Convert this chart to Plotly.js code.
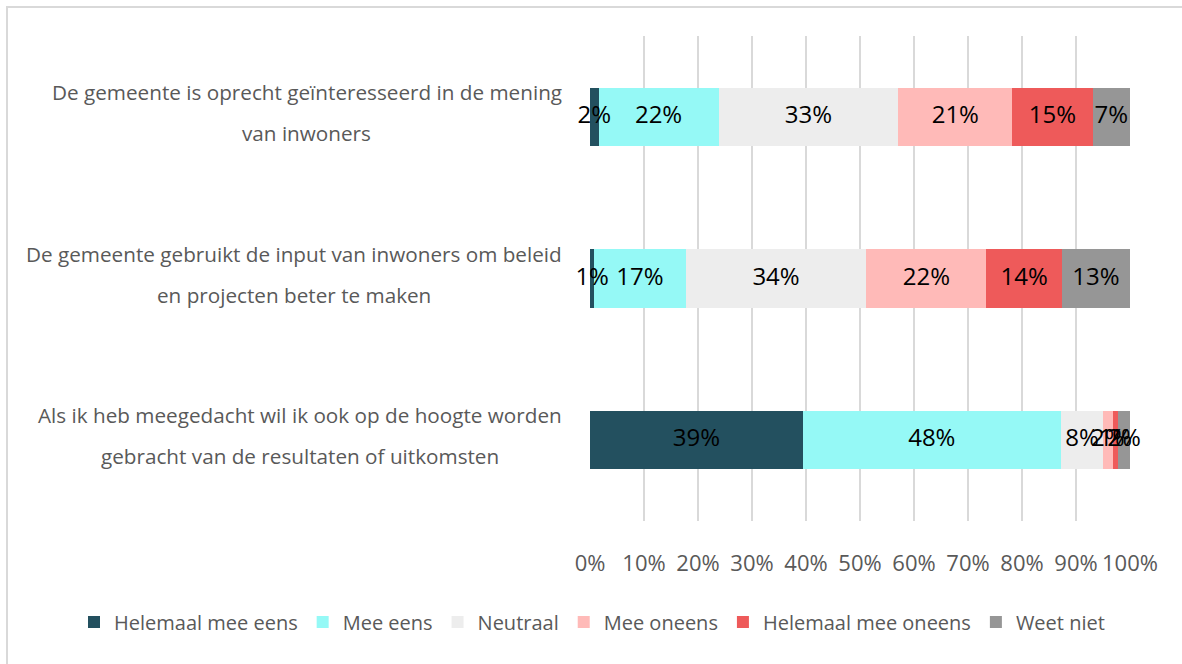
<!DOCTYPE html>
<html>
<head>
<meta charset="utf-8">
<script src="https://cdn.plot.ly/plotly-3.0.1.min.js"></script>
<style>
html,body{margin:0;padding:0;background:#fff;}
#wrap{position:relative;width:1182px;height:664px;overflow:hidden;}
#chart{width:1182px;height:664px;}
#frame{position:absolute;left:6px;top:6px;width:1300px;height:800px;border-left:2px solid #d9d9d9;border-top:2px solid #d9d9d9;pointer-events:none;}
</style>
</head>
<body>
<div id="wrap"><div id="chart"></div><div id="frame"></div></div>
<script>
const categories = [
  "De gemeente is oprecht geïnteresseerd in de mening<br>van inwoners",
  "De gemeente gebruikt de input van inwoners om beleid<br>en projecten beter te maken",
  "Als ik heb meegedacht wil ik ook op de hoogte worden<br>gebracht van de resultaten of uitkomsten"
];
const seriesNames = ["Helemaal mee eens","Mee eens","Neutraal","Mee oneens","Helemaal mee oneens","Weet niet"];
const helemaalMeeEens   = [1.6, 0.8, 39.4];
const meeEens           = [22.2, 16.9, 47.8];
const neutraal          = [33.3, 33.5, 7.8];
const meeOneens         = [21.1, 22.2, 1.8];
const helemaalMeeOneens = [14.9, 14.0, 1.0];
const weetNiet          = [6.9, 12.6, 2.2];
const xTicks = [0,10,20,30,40,50,60,70,80,90,100];

const seriesValues = [helemaalMeeEens, meeEens, neutraal, meeOneens, helemaalMeeOneens, weetNiet];
const colors = ["#23505F","#95F9F6","#EDEDED","#FFBAB8","#EE5A5A","#969696"];
const FONT = '"Open Sans", sans-serif';

const traces = seriesNames.map((name,i)=>({
  type:'bar', orientation:'h', name:name,
  y: categories, x: seriesValues[i],
  marker:{color:colors[i], line:{width:0}},
  textposition:'none', hoverinfo:'none'
}));

// value labels at the middle of each segment
const cum = categories.map(()=>0);
seriesValues.forEach((vals,i)=>{
  const mids = vals.map((v,k)=>{ const m = cum[k] + v/2; cum[k] += v; return m; });
  traces.push({
    type:'scatter', mode:'text', x:mids, y:categories,
    text: vals.map(v=>Math.round(v)+'%'),
    textposition:'middle center', cliponaxis:false, showlegend:false, hoverinfo:'none',
    textfont:{family:FONT,size:24,color:'#000'}
  });
});

const L=590, R=52, T=36, B=143, PW=1182-L-R;
const canvas=document.createElement('canvas');
const ctx=canvas.getContext('2d');
ctx.font='20.7px "Open Sans"';
const annotations=[];
categories.forEach((c,i)=>{
  const lines=c.split('<br>');
  const w=Math.max(...lines.map(s=>ctx.measureText(s).width));
  const cx=562 - w/2;
  const px=(cx-L)/PW;
  lines.forEach((s,j)=>{
    annotations.push({xref:'paper',yref:'y',x:px,y:c,xanchor:'center',yanchor:'middle',
      yshift: j===0?25:-16, text:s, showarrow:false,
      font:{family:FONT,size:20.7,color:'#595959'}});
  });
});

const layout={
  width:1182,height:664,
  margin:{l:L,r:R,t:T,b:B,pad:0,autoexpand:false},
  barmode:'stack', bargap:0.64,
  paper_bgcolor:'#fff', plot_bgcolor:'#fff',
  font:{family:FONT,color:'#595959'},
  showlegend:true,
  legend:{orientation:'h',x:(74-L)/PW,xanchor:'left',y:(521-622)/485,yanchor:'middle',
    font:{family:FONT,size:20,color:'#595959'},traceorder:'normal',itemwidth:30},
  xaxis:{range:[0,100],tickvals:xTicks,ticktext:xTicks.map(v=>v+'%'),
    showgrid:true,gridcolor:'#d9d9d9',gridwidth:2,zeroline:false,showline:false,
    ticks:'',ticklabelstandoff:27,tickfont:{family:FONT,size:22,color:'#595959'},fixedrange:true},
  yaxis:{type:'category',categoryarray:categories,autorange:'reversed',
    showticklabels:false,showgrid:false,zeroline:false,showline:false,ticks:'',fixedrange:true},
  annotations:annotations
};
Plotly.newPlot('chart',traces,layout,{displayModeBar:false,staticPlot:true});
</script>
</body>
</html>
